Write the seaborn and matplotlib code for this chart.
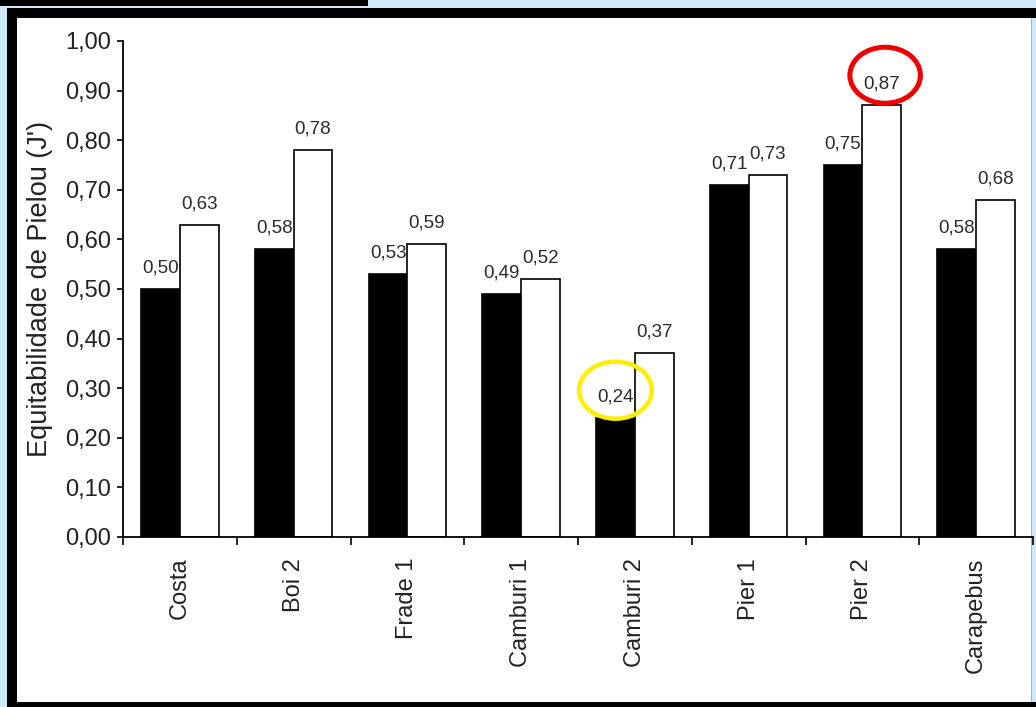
import matplotlib
matplotlib.use("Agg")
import matplotlib.pyplot as plt
from matplotlib.patches import Rectangle, Ellipse
from matplotlib.ticker import FixedLocator
import seaborn as sns
import pandas as pd

# ---- data ----
sites = ["Costa", "Boi 2", "Frade 1", "Camburi 1", "Camburi 2", "Pier 1", "Pier 2", "Carapebus"]
serie_preta = [0.50, 0.58, 0.53, 0.49, 0.24, 0.71, 0.75, 0.58]
serie_branca = [0.63, 0.78, 0.59, 0.52, 0.37, 0.73, 0.87, 0.68]
y_ticks = [0.0, 0.1, 0.2, 0.3, 0.4, 0.5, 0.6, 0.7, 0.8, 0.9, 1.0]
y_label = "Equitabilidade de Pielou (J')"

df = pd.DataFrame({
    "site": sites * 2,
    "valor": serie_preta + serie_branca,
    "serie": ["A"] * len(sites) + ["B"] * len(sites),
})

sns.set_theme(style="white")
plt.rcParams["font.family"] = ["Liberation Sans", "DejaVu Sans"]

W, H = 1036, 707
fig = plt.figure(figsize=(W / 100, H / 100), dpi=100)
fig.patch.set_facecolor("#cde9fb")

def px_rect(x0, y0, x1, y1, color):
    fig.patches.append(Rectangle((x0 / W, 1 - y1 / H), (x1 - x0) / W, (y1 - y0) / H,
                                 transform=fig.transFigure, facecolor=color,
                                 edgecolor="none", zorder=-10))

px_rect(0, 0, 368, 6, "black")
px_rect(7, 8, W, H, "black")
px_rect(17, 18, 1031, 702, "white")
px_rect(1031, 18, 1032, 702, "#b0b0b0")
px_rect(1032, 18, W, 702, "#cde9fb")

left, right, bottom_px, top_px = 123, 1033, 537, 41
ax = fig.add_axes([left / W, 1 - bottom_px / H, (right - left) / W, (bottom_px - top_px) / H])
ax.set_zorder(1)
ax.patch.set_alpha(0)

sns.barplot(data=df, x="site", y="valor", hue="serie", palette=["black", "white"],
            edgecolor="black", linewidth=1.2, width=0.68, gap=0, legend=False, ax=ax)

ax.set_xlim(-0.5, len(sites) - 0.5)
ax.set_ylim(0, 1.0)
ax.set_yticks(y_ticks)
ax.set_yticklabels([f"{v:.2f}".replace(".", ",") for v in y_ticks], fontsize=17, color="#222222")
ax.set_xticks(range(len(sites)))
ax.set_xticklabels(sites, rotation=90, fontsize=17, color="#222222")
ax.xaxis.set_minor_locator(FixedLocator([i - 0.5 for i in range(len(sites) + 1)]))
ax.tick_params(axis="x", which="major", length=0, pad=15)
ax.tick_params(axis="x", which="minor", length=5.5, width=1.2, color="black", direction="out", bottom=True)
ax.tick_params(axis="y", which="major", length=4.5, width=1.2, color="black", direction="out", left=True, pad=4)
ax.set_xlabel("")
ax.set_ylabel(y_label, fontsize=19.5, color="#222222", labelpad=9)

for s in ["top", "right"]:
    ax.spines[s].set_visible(False)
for s in ["left", "bottom"]:
    ax.spines[s].set_color("black")
    ax.spines[s].set_linewidth(1.3)

for cont, vals in zip(ax.containers, [serie_preta, serie_branca]):
    ax.bar_label(cont, labels=[f"{v:.2f}".replace(".", ",") for v in vals],
                 padding=9, fontsize=13.5, color="#2a2a2a")

# highlight ellipses
def bar_center(container, idx):
    p = container.patches[idx]
    return p.get_x() + p.get_width() / 2, p.get_height()

bx, bh = bar_center(ax.containers[0], sites.index("Camburi 2"))
ax.add_patch(Ellipse((bx, bh + 0.056), 0.64, 0.115, fill=False, edgecolor="#ffee00",
                     linewidth=3.2, clip_on=False, zorder=5))
rx, rh = bar_center(ax.containers[1], sites.index("Pier 2"))
ax.add_patch(Ellipse((rx + 0.03, rh + 0.061), 0.62, 0.113, fill=False, edgecolor="#ee0000",
                     linewidth=3.6, clip_on=False, zorder=5))

fig.savefig("out.png", dpi=100, facecolor=fig.get_facecolor())
